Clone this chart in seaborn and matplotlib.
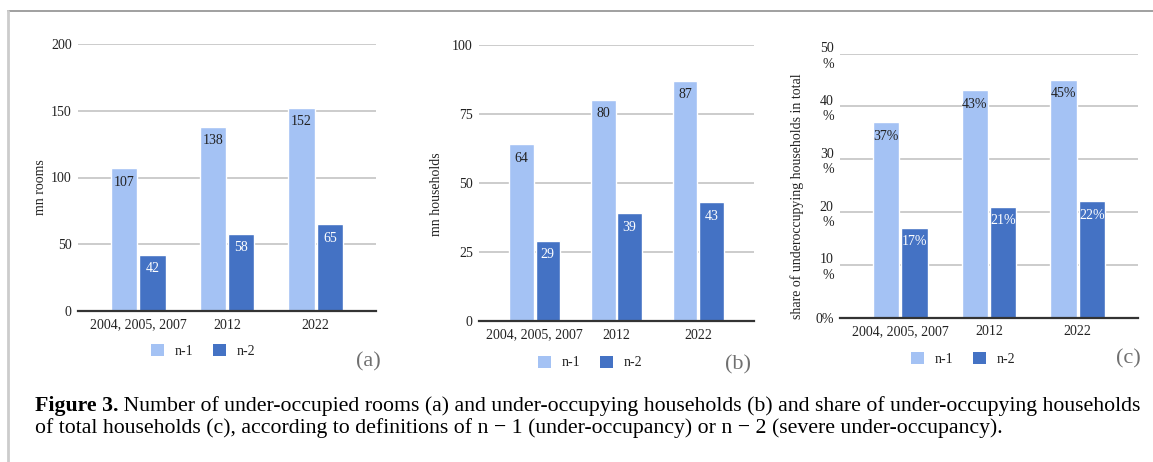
import matplotlib
matplotlib.use("Agg")
import matplotlib.pyplot as plt
from matplotlib.patches import Patch
from matplotlib.lines import Line2D
import seaborn as sns
import pandas as pd

# ---------------- data ----------------
categories = ["2004, 2005, 2007", "2012", "2022"]
series = ["n-1", "n-2"]
rooms_n1 = [107, 138, 152]
rooms_n2 = [42, 58, 65]
households_n1 = [64, 80, 87]
households_n2 = [29, 39, 43]
share_n1 = [37, 43, 45]
share_n2 = [17, 21, 22]

rooms_ticks = [0, 50, 100, 150, 200]
households_ticks = [0, 25, 50, 75, 100]
share_ticks = [0, 10, 20, 30, 40, 50]
share_tick_labels = ["0%", "10\n%", "20\n%", "30\n%", "40\n%", "50\n%"]

ylabels = ["mn rooms", "mn households", "share of underoccupying households in total"]
panel_tags = ["(a)", "(b)", "(c)"]
caption_bold = "Figure 3."
caption_line1 = (" Number of under-occupied rooms (a) and under-occupying households (b) "
                 "and share of under-occupying households")
caption_line2 = ("of total households (c), according to definitions of n \u2212 1 "
                 "(under-occupancy) or n \u2212 2 (severe under-occupancy).")

LIGHT = "#a4c2f4"
DARK = "#4472c4"

sns.set_style("white")
plt.rcParams["font.family"] = ["Liberation Serif", "DejaVu Serif"]

W, H = 1153, 462
fig = plt.figure(figsize=(W / 100, H / 100), dpi=100)

FS = 10


def fx(px):
    return px / W


def fy(py):
    return 1 - py / H


# axes rectangles (pixel based: left, top, right, bottom)
rects = [(78, 44, 376, 311), (479, 44.7, 754, 321), (840, 53.5, 1138, 317.7)]
label_x = [40, 437, 797]
label_yc = [187.5, 194, 196.5]
legend_pos = [(203, 351), (590, 362.5), (963, 359)]
tag_pos = [(368, 362), (738, 365), (1128, 359)]

panels = [
    (rooms_n1, rooms_n2, rooms_ticks, [str(t) for t in rooms_ticks], "{:d}"),
    (households_n1, households_n2, households_ticks, [str(t) for t in households_ticks], "{:d}"),
    (share_n1, share_n2, share_ticks, share_tick_labels, "{:d}%"),
]

for i, (n1, n2, ticks, tlabels, fmt) in enumerate(panels):
    l, t, r, b = rects[i]
    ax = fig.add_axes([fx(l), fy(b), fx(r - l), (b - t) / H])
    df = pd.DataFrame({
        "period": categories * 2,
        "series": [series[0]] * len(categories) + [series[1]] * len(categories),
        "value": n1 + n2,
    })
    sns.barplot(data=df, x="period", y="value", hue="series", hue_order=series,
                palette=[LIGHT, DARK], width=0.64, gap=0.07, saturation=1,
                legend=False, ax=ax, errorbar=None)
    ax.set_xlim(-0.68, 2.68)
    ax.set_ylim(ticks[0], ticks[-1])
    ax.set_yticks(ticks)
    ax.set_yticklabels(tlabels, linespacing=1.25)
    ax.set_xlabel("")
    ax.set_ylabel(ylabels[i], fontsize=FS, color="#222222")
    ax.yaxis.label.set_va("center")
    ax.yaxis.set_label_coords((label_x[i] - l) / (r - l), (b - label_yc[i]) / (b - t))
    ax.tick_params(axis="y", length=0, pad=4.5, labelsize=FS, labelcolor="#222222")
    ax.tick_params(axis="x", length=0, pad=5.5, labelsize=FS, labelcolor="#222222")
    ax.yaxis.grid(True, color="#cccccc", lw=1.4)
    ax.xaxis.grid(False)
    ax.set_axisbelow(True)
    for s in ["top", "right", "left"]:
        ax.spines[s].set_visible(False)
    ax.spines["bottom"].set_color("#333333")
    ax.spines["bottom"].set_linewidth(1.6)
    ax.spines["bottom"].set_zorder(5)

    for cont, col in zip(ax.containers, ["#222222", "white"]):
        for bar in cont:
            h = bar.get_height()
            ax.annotate(fmt.format(int(round(h))),
                        xy=(bar.get_x() + bar.get_width() / 2, h),
                        xytext=(0, -10), textcoords="offset points",
                        ha="center", va="center", fontsize=FS, color=col)

    handles = [Patch(facecolor=LIGHT, edgecolor="none"), Patch(facecolor=DARK, edgecolor="none")]
    lx, ly = legend_pos[i]
    ax.legend(handles, series, loc="center", bbox_to_anchor=(fx(lx), fy(ly)),
              bbox_transform=fig.transFigure, ncol=2, frameon=False, fontsize=FS,
              handlelength=0.95, handleheight=0.95, handletextpad=0.75,
              columnspacing=1.4, labelcolor="#222222")

    tx, ty = tag_pos[i]
    fig.text(fx(tx), fy(ty), panel_tags[i], ha="center", va="center",
             fontsize=16, color="#707070")

# outer frame lines
fig.add_artist(Line2D([fx(8), 1], [fy(11), fy(11)], color="#999999", lw=1.3,
                      transform=fig.transFigure))
fig.add_artist(Line2D([fx(8), fx(8)], [fy(11), 0], color="#cccccc", lw=2,
                      transform=fig.transFigure))

# caption
cap_size = 15.7
tb = fig.text(fx(35), fy(411.5), caption_bold, ha="left", va="baseline",
              fontsize=cap_size, fontweight="bold", color="black")
fig.canvas.draw()
ext = tb.get_window_extent(renderer=fig.canvas.get_renderer())
fig.text(ext.x1 / W, fy(411.5), caption_line1, ha="left", va="baseline",
         fontsize=cap_size, color="black")
fig.text(fx(35), fy(432.5), caption_line2, ha="left", va="baseline",
         fontsize=cap_size, color="black")

fig.savefig("out.png", dpi=100)
